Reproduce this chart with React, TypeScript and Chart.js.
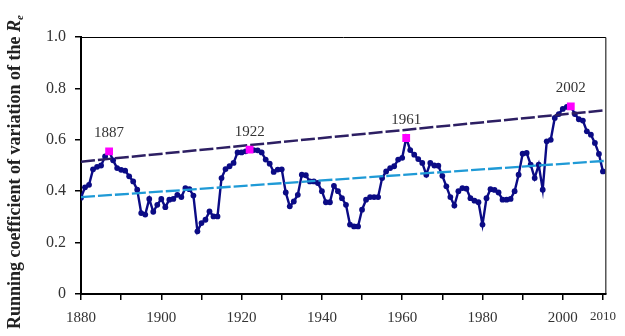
import { useEffect, useRef } from "react";
import { Chart, registerables } from "chart.js";

Chart.register(...registerables);

const FONT = '"Liberation Serif", "Times New Roman", serif';

// Running coefficient of variation, one value per year from FIRST_YEAR
const FIRST_YEAR = 1880;
const CV_VALUES = [
  0.375, 0.415, 0.425, 0.485, 0.495, 0.5, 0.535, 0.555, 0.52, 0.49, // 1880s
  0.483, 0.48, 0.458, 0.438, 0.406, 0.315, 0.309, 0.37, 0.32, 0.347, // 1890s
  0.37, 0.338, 0.367, 0.37, 0.386, 0.377, 0.412, 0.408, 0.383, 0.244, // 1900s
  0.276, 0.289, 0.321, 0.302, 0.302, 0.451, 0.486, 0.497, 0.51, 0.551, // 1910s
  0.551, 0.555, 0.562, 0.56, 0.559, 0.551, 0.523, 0.507, 0.475, 0.484, // 1920s
  0.485, 0.395, 0.341, 0.36, 0.386, 0.464, 0.462, 0.438, 0.438, 0.432, // 1930s
  0.4, 0.357, 0.357, 0.421, 0.4, 0.373, 0.347, 0.27, 0.263, 0.263, // 1940s
  0.328, 0.367, 0.377, 0.377, 0.377, 0.451, 0.477, 0.49, 0.497, 0.523, // 1950s
  0.53, 0.607, 0.56, 0.542, 0.525, 0.51, 0.464, 0.51, 0.5, 0.499, // 1960s
  0.46, 0.419, 0.377, 0.344, 0.4, 0.412, 0.41, 0.373, 0.363, 0.357, // 1970s
  0.27, 0.373, 0.408, 0.405, 0.395, 0.367, 0.367, 0.37, 0.4, 0.464, // 1980s
  0.546, 0.549, 0.503, 0.451, 0.503, 0.406, 0.594, 0.6, 0.685, 0.7, // 1990s
  0.72, 0.728, 0.73, 0.7, 0.68, 0.675, 0.633, 0.62, 0.588, 0.545, // 2000s
  0.477, // 2010
];

// Highlighted maxima
const PEAK_YEARS = [1887, 1922, 1961, 2002];
const PEAK_VALUES = [0.555, 0.562, 0.607, 0.73];

// Linear trends (end points)
const X_MIN = 1880;
const X_MAX = 2010.6;
const TREND_YEARS = [X_MIN, X_MAX];
const UPPER_TREND = [0.515, 0.715];
const LOWER_TREND = [0.377, 0.518];

// Axis ticks
const X_TICKS = [1880, 1890, 1900, 1910, 1920, 1930, 1940, 1950, 1960, 1970, 1980, 1990, 2000, 2010];
const X_LABELS = [1880, 1900, 1920, 1940, 1960, 1980, 2000, 2010];
const Y_TICKS = [0, 0.2, 0.4, 0.6, 0.8, 1.0];

const Y_TITLE_MAIN = "Running coefficient of variation of the ";
const Y_TITLE_VAR = "R";
const Y_TITLE_SUB = "e";

const overlay = {
  id: "overlay",
  afterDatasetsDraw(chart: any) {
    const { ctx, chartArea: a, scales } = chart;
    ctx.save();
    // thin frame on top and right of the plot
    ctx.strokeStyle = "#000";
    ctx.lineWidth = 1;
    ctx.beginPath();
    ctx.moveTo(a.left, a.top + 0.5);
    ctx.lineTo(a.right + 0.5, a.top + 0.5);
    ctx.lineTo(a.right + 0.5, a.bottom);
    ctx.stroke();

    // year labels over the peaks
    ctx.font = `15px ${FONT}`;
    ctx.fillStyle = "#333";
    ctx.textAlign = "center";
    ctx.textBaseline = "middle";
    PEAK_YEARS.forEach((yr, i) => {
      const px = scales.x.getPixelForValue(yr);
      const py = scales.y.getPixelForValue(PEAK_VALUES[i]);
      ctx.fillText(String(yr), px, py - 18);
    });
    ctx.restore();
  },
  afterDraw(chart: any) {
    const { ctx } = chart;
    ctx.save();
    const mainFont = `bold 18px ${FONT}`;
    const varFont = `bold italic 18px ${FONT}`;
    const subFont = `bold italic 11px ${FONT}`;
    ctx.font = mainFont;
    const w1 = ctx.measureText(Y_TITLE_MAIN).width;
    ctx.font = varFont;
    const w2 = ctx.measureText(Y_TITLE_VAR).width;
    ctx.font = subFont;
    const w3 = ctx.measureText(Y_TITLE_SUB).width;
    const total = w1 + w2 + w3;
    ctx.translate(15, 172);
    ctx.rotate(-Math.PI / 2);
    ctx.fillStyle = "#222";
    ctx.textBaseline = "middle";
    ctx.textAlign = "left";
    let x = -total / 2;
    ctx.font = mainFont;
    ctx.fillText(Y_TITLE_MAIN, x, 0);
    x += w1;
    ctx.font = varFont;
    ctx.fillText(Y_TITLE_VAR, x, 0);
    x += w2;
    ctx.font = subFont;
    ctx.fillText(Y_TITLE_SUB, x, 5);
    ctx.restore();
  },
};

export default function App() {
  const canvasRef = useRef<HTMLCanvasElement | null>(null);

  useEffect(() => {
    if (!canvasRef.current) return;
    const series = CV_VALUES.map((v, i) => ({ x: FIRST_YEAR + i, y: v }));
    const peaks = PEAK_YEARS.map((yr, i) => ({ x: yr, y: PEAK_VALUES[i] }));
    const upper = TREND_YEARS.map((yr, i) => ({ x: yr, y: UPPER_TREND[i] }));
    const lower = TREND_YEARS.map((yr, i) => ({ x: yr, y: LOWER_TREND[i] }));

    const chart = new Chart(canvasRef.current, {
      type: "line",
      data: {
        datasets: [
          {
            label: "Peaks",
            data: peaks,
            showLine: false,
            pointStyle: "rect",
            pointRadius: 5.5,
            pointBackgroundColor: "#ff00ff",
            pointBorderColor: "#ff00ff",
            pointBorderWidth: 0,
            order: 0,
          },
          {
            label: "Upper trend",
            data: upper,
            borderColor: "#2d1f63",
            borderWidth: 2.5,
            borderDash: [14, 3],
            pointRadius: 0,
            order: 1,
          },
          {
            label: "Lower trend",
            data: lower,
            borderColor: "#1f9ad6",
            borderWidth: 2.3,
            borderDash: [14, 3],
            pointRadius: 0,
            order: 1,
          },
          {
            label: "CV",
            data: series,
            borderColor: "#0b0b85",
            borderWidth: 2.4,
            pointRadius: 2.9,
            pointBackgroundColor: "#0b0b85",
            pointBorderColor: "#0b0b85",
            pointBorderWidth: 0,
            tension: 0,
            order: 2,
          },
        ],
      },
      options: {
        animation: false,
        responsive: false,
        devicePixelRatio: 1,
        layout: { padding: { left: 0, right: 14, top: 37, bottom: 0 } },
        plugins: {
          legend: { display: false },
          tooltip: { enabled: false },
        },
        scales: {
          x: {
            type: "linear",
            min: X_MIN,
            max: X_MAX,
            afterBuildTicks: (s: any) => {
              s.ticks = X_TICKS.map((v) => ({ value: v }));
            },
            afterFit: (s: any) => {
              s.height = 42;
            },
            ticks: {
              autoSkip: false,
              maxRotation: 0,
              padding: 9,
              color: "#333",
              callback: (v: any) => (X_LABELS.includes(Number(v)) ? String(v) : ""),
              font: (c: any) => ({
                family: FONT,
                size: c.tick && c.tick.value === 2010 ? 13 : 15,
              }),
            },
            grid: {
              drawOnChartArea: false,
              drawTicks: true,
              tickLength: 6,
              color: "#000",
              lineWidth: 1.5,
            },
            border: { display: true, color: "#000", width: 2 },
          },
          y: {
            min: 0,
            max: 1,
            afterBuildTicks: (s: any) => {
              s.ticks = Y_TICKS.map((v) => ({ value: v }));
            },
            afterFit: (s: any) => {
              s.width = 81;
            },
            ticks: {
              padding: 9,
              color: "#333",
              font: { family: FONT, size: 16 },
              callback: (v: any) => (Number(v) === 0 ? "0" : Number(v).toFixed(1)),
            },
            grid: {
              drawOnChartArea: false,
              drawTicks: true,
              tickLength: 6,
              color: "#000",
              lineWidth: 1.5,
            },
            border: { display: true, color: "#000", width: 2 },
          },
        },
      },
      plugins: [overlay],
    });
    return () => chart.destroy();
  }, []);

  return (
    <div style={{ position: "fixed", left: 0, top: 0, width: 625, height: 336, background: "#fff" }}>
      <canvas ref={canvasRef} width={625} height={336} style={{ display: "block" }} />
    </div>
  );
}
